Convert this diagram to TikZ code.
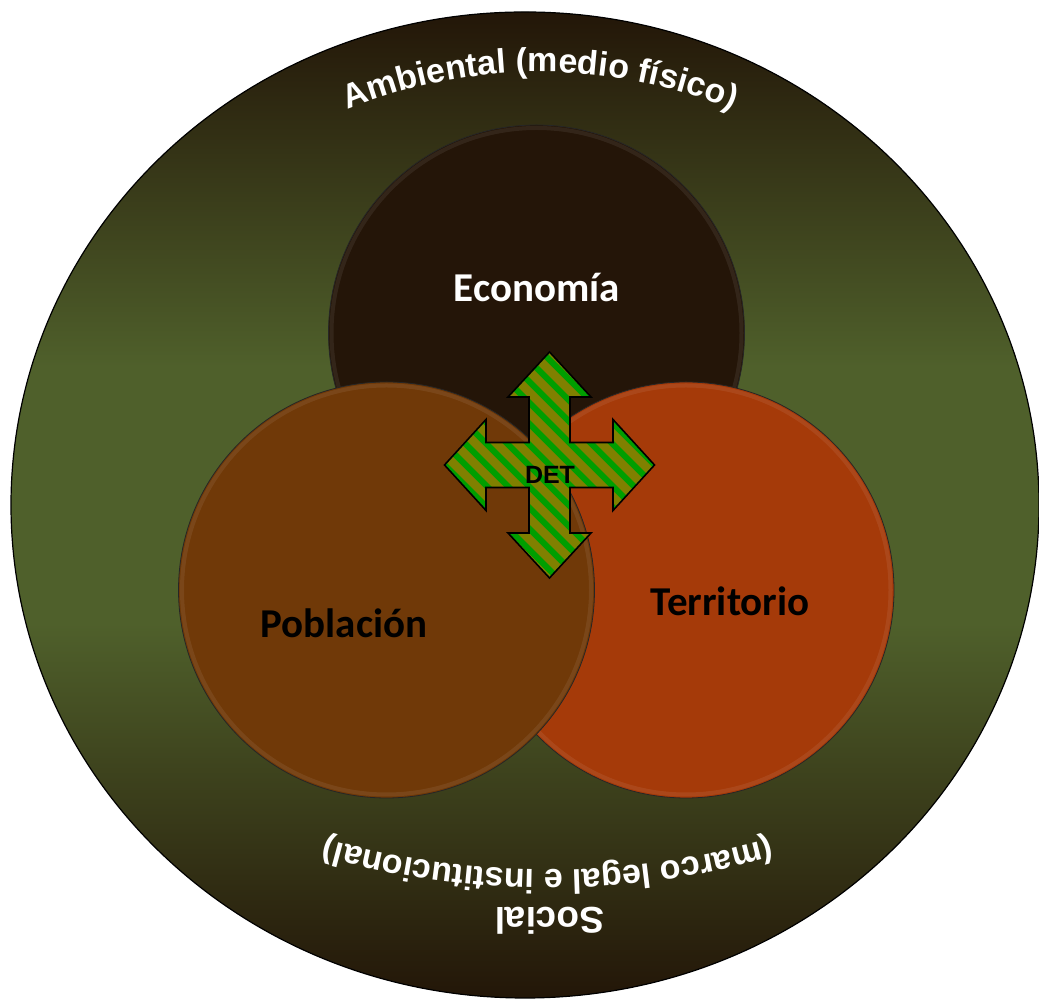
\documentclass[tikz,border=0pt]{standalone}
\usepackage{fontspec}
\setmainfont{Carlito}
\newfontfamily\arcfont{Liberation Sans}
\usetikzlibrary{decorations.text}

\definecolor{ringdark}{RGB}{35,22,8}
\definecolor{ringgreen}{RGB}{79,96,43}
\definecolor{ecofill}{RGB}{36,21,8}
\definecolor{pobfill}{RGB}{112,57,8}
\definecolor{terfill}{RGB}{165,58,9}
\definecolor{detolive}{RGB}{128,128,0}
\definecolor{detgreen}{RGB}{0,158,0}

\pgfdeclareverticalshading{ringshade}{100bp}{color(0bp)=(ringdark); color(25bp)=(ringdark); color(44bp)=(ringgreen); color(57bp)=(ringgreen); color(75bp)=(ringdark); color(100bp)=(ringdark)}

\def\detcross{(0,113) -- (41.5,68) -- (20.5,68) -- (20.5,22.5) -- (63.5,22.5) -- (63.5,45.5) -- (105,0) -- (63.5,-45.5) -- (63.5,-22.5) -- (20.5,-22.5) -- (20.5,-68) -- (41.5,-68) -- (0,-113) -- (-41.5,-68) -- (-20.5,-68) -- (-20.5,-22.5) -- (-63.5,-22.5) -- (-63.5,-45.5) -- (-105,0) -- (-63.5,45.5) -- (-63.5,22.5) -- (-20.5,22.5) -- (-20.5,68) -- (-41.5,68) -- cycle}

\tikzset{
  disc/.style={circle, minimum size=416pt, inner sep=0pt, draw=black!85, line width=0.8pt},
  rim/.style={draw=white, opacity=0.07, line width=4pt},
  word/.style={font=\bfseries\fontsize{41}{49}\selectfont, inner sep=0pt, anchor=base},
  arcfmt/.style={decorate, decoration={text along path, text color=white, text align=center, text={|\arcfont\bfseries\fontsize{#1}{#1}\selectfont|\arctext}}}
}

\begin{document}
\begin{tikzpicture}[x=1pt, y=1pt]
\useasboundingbox (0,0) rectangle (1039,1000);
% outer ring:
\draw[shading=ringshade, line width=1.2pt] (525,495) ellipse [x radius=514, y radius=493];
\def\arctext{Ambiental (medio físico)}
\path[arcfmt=34] ([shift={(540,421)}]130:507) arc[start angle=130, end angle=50, radius=507];
\def\arctext{(marco legal e institucional)}
\path[arcfmt=34] ([shift={(548,930)}]292:800) arc[start angle=292, end angle=248, radius=800];
\node[rotate=180, anchor=base, inner sep=0pt, text=white, font=\arcfont\bfseries\fontsize{37}{44}\selectfont] (social) at (549.5,92) {Social};
% three circles:
\node[disc, fill=ecofill] (eco) at (536.5,667) {};
\draw[rim] (eco.center) circle (205);
\node[disc, fill=terfill] (ter) at (686,410) {};
\draw[rim] (ter.center) circle (204.5);
\node[disc, fill=pobfill] (pob) at (386.5,410) {};
\draw[rim] (pob.center) circle (204.5);
\node[word, text=white] (econame) at (537,698) {Economía};
\node[word] (pobname) at (344,362) {Población};
\node[word] (tername) at (730,384) {Territorio};
% DET cross arrow:
\begin{scope}[shift={(549.5,535)}]
\begin{scope}
\path[clip] \detcross;
\fill[detolive] (-110,-120) rectangle (110,120);
\foreach \s in {-231,-210,...,231}
  \draw[detgreen, line width=6pt] (\s-130,130) -- (\s+130,-130);
\end{scope}
\draw[line width=1.6pt, line join=miter] \detcross;
\end{scope}
\node[anchor=base, inner sep=0pt, font=\arcfont\bfseries\fontsize{25}{30}\selectfont] (det) at (550,516) {DET};
\end{tikzpicture}
\end{document}
